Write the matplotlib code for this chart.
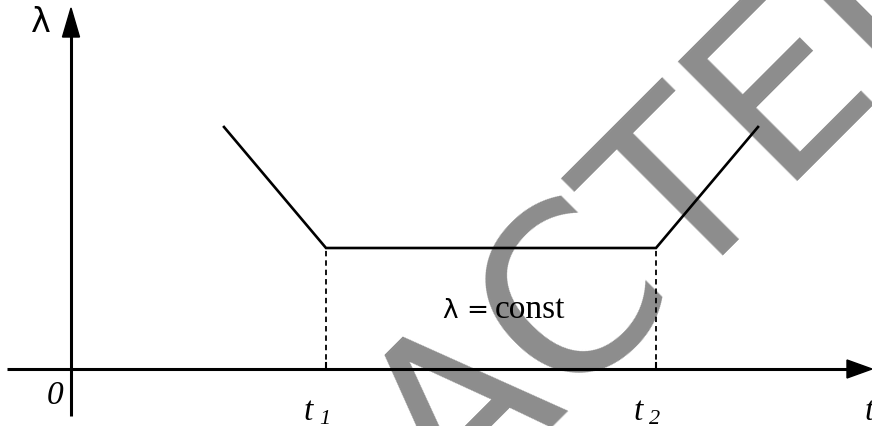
import matplotlib
matplotlib.use("Agg")
import matplotlib.pyplot as plt
from matplotlib.patches import Polygon

# bathtub curve: failure rate over time (units of 100 px)
t_points = [1.53, 2.55, 5.85, 6.87]
lam_points = [2.42, 1.21, 1.21, 2.42]
t1, t2 = t_points[1], t_points[2]
lam_const = lam_points[1]

fig = plt.figure(figsize=(8.72, 4.26), dpi=100)
ax = fig.add_axes([0, 0, 1, 1])
ax.set_xlim(-0.71, 8.01)
ax.set_ylim(-0.57, 3.69)
ax.axis('off')

# axes with arrow heads
ax.plot([0, 0], [-0.47, 3.35], color='k', lw=2.2, solid_capstyle='butt')
ax.add_patch(Polygon([[-0.085, 3.32], [0.085, 3.32], [0, 3.61]], closed=True, color='k'))
ax.plot([-0.64, 7.78], [0, 0], color='k', lw=2.2, solid_capstyle='butt')
ax.add_patch(Polygon([[7.76, 0.09], [7.76, -0.09], [8.01, 0]], closed=True, color='k'))

# curve
ax.plot(t_points, lam_points, color='k', lw=1.9, solid_joinstyle='miter')

# dashed drops and small ticks
for tx in (t1, t2):
    ax.plot([tx, tx], [0, lam_const], color='k', lw=1.3, linestyle=(0, (3, 2.2)))
    ax.plot([tx, tx], [0, 0.06], color='k', lw=1.5)

serif = 'Liberation Serif'
ax.text(-0.30, 3.46, 'λ', fontsize=24, family='DejaVu Sans', ha='center', va='center')
ax.text(-0.16, -0.27, '0', fontsize=24, family=serif, style='italic', ha='center', va='center')

# time labels with italic subscripts
for tx, sub in ((t1, '1'), (t2, '2')):
    ax.text(tx - 0.22, -0.51, 't', fontsize=24, family=serif, style='italic',
            ha='left', va='baseline')
    ax.text(tx - 0.07, -0.55, sub, fontsize=16, family=serif, style='italic',
            ha='left', va='baseline')
ax.text(7.94, -0.51, 't', fontsize=24, family=serif, style='italic', ha='left', va='baseline')

ax.text(3.71, 0.51, 'λ', fontsize=19, family='DejaVu Sans', ha='left', va='baseline')
ax.text(3.95, 0.51, '=', fontsize=19, family='DejaVu Sans', ha='left', va='baseline')
ax.text(4.24, 0.51, 'const', fontsize=24, family=serif, ha='left', va='baseline')

# diagonal stamp across the drawing
ax.text(4.42, 0.16, 'REDACTED', fontsize=167, family='DejaVu Sans', color='k', alpha=0.45,
        rotation=45, rotation_mode='anchor', ha='center', va='center', zorder=10)

fig.savefig('out.png', dpi=100)
